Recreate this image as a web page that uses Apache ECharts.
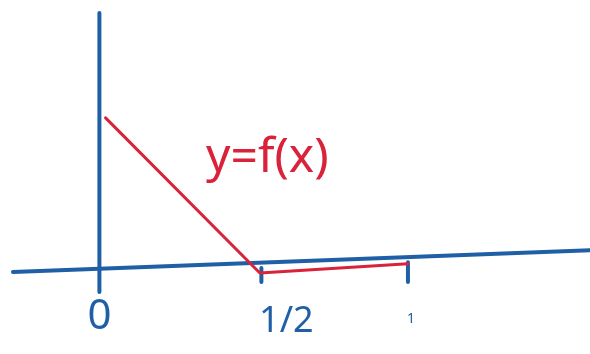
<!DOCTYPE html>
<html>
<head>
<meta charset="utf-8">
<script src="https://cdn.jsdelivr.net/npm/echarts@6/dist/echarts.min.js"></script>
<style>
  html, body { margin: 0; padding: 0; background: #ffffff; }
  #main { width: 590px; height: 354px; }
</style>
</head>
<body>
<div id="main"></div>
<script>
// sketch data (hand drawn, so the 1/2 mark sits a bit right of true half)
var fPoints = [[0.02, 1.0], [0.52, -0.02], [1.0, 0.04]];
var xAxisPoints = [[-0.28, -0.013], [1.59, 0.13]];
var yAxisPoints = [[0, -0.145], [0, 1.69]];
var tickHalf = [[0.525, 0.013], [0.525, -0.08]];
var tickOne = [[1.0, 0.05], [1.0, -0.08]];
var tickValues = [0, 0.525, 1];
var tickLabels = ['0', '1/2', '1'];

var blue = '#1f5fa6';
var red = '#d8233b';

var myChart = echarts.init(document.getElementById('main'));

function seg(data, color, width) {
  return {
    type: 'line',
    data: data,
    symbol: 'none',
    silent: true,
    lineStyle: { color: color, width: width, cap: 'round', join: 'round' }
  };
}

var option = {
  animation: false,
  grid: { left: 13, right: 0, top: 13, bottom: 62 },
  xAxis: {
    type: 'value',
    min: -0.28,
    max: 1.59,
    splitLine: { show: false },
    axisLine: { show: false },
    axisTick: { show: false },
    axisLabel: {
      customValues: tickValues,
      margin: 4,
      formatter: function (v) {
        var i = tickValues.indexOf(v);
        var key = ['a', 'b', 'c'][i];
        return '{' + key + '|' + tickLabels[i] + '}';
      },
      rich: {
        a: { fontFamily: 'Noto Sans', fontSize: 42, color: blue },
        b: { fontFamily: 'Noto Sans', fontSize: 36, color: blue, padding: [8, 0, 0, 50] },
        c: { fontFamily: 'Noto Sans', fontSize: 14, color: blue, padding: [16, 0, 0, 6] }
      }
    }
  },
  yAxis: {
    type: 'value',
    min: -0.145,
    max: 1.69,
    show: false
  },
  graphic: [{
    type: 'text',
    left: 206,
    top: 134,
    style: {
      text: 'y=f(x)',
      fill: red,
      font: '48px "Noto Sans"'
    }
  }],
  series: [
    seg(yAxisPoints, blue, 4),
    seg(xAxisPoints, blue, 4),
    seg(tickHalf, blue, 4),
    seg(tickOne, blue, 4),
    seg(fPoints, red, 3)
  ]
};

myChart.setOption(option);
</script>
</body>
</html>
